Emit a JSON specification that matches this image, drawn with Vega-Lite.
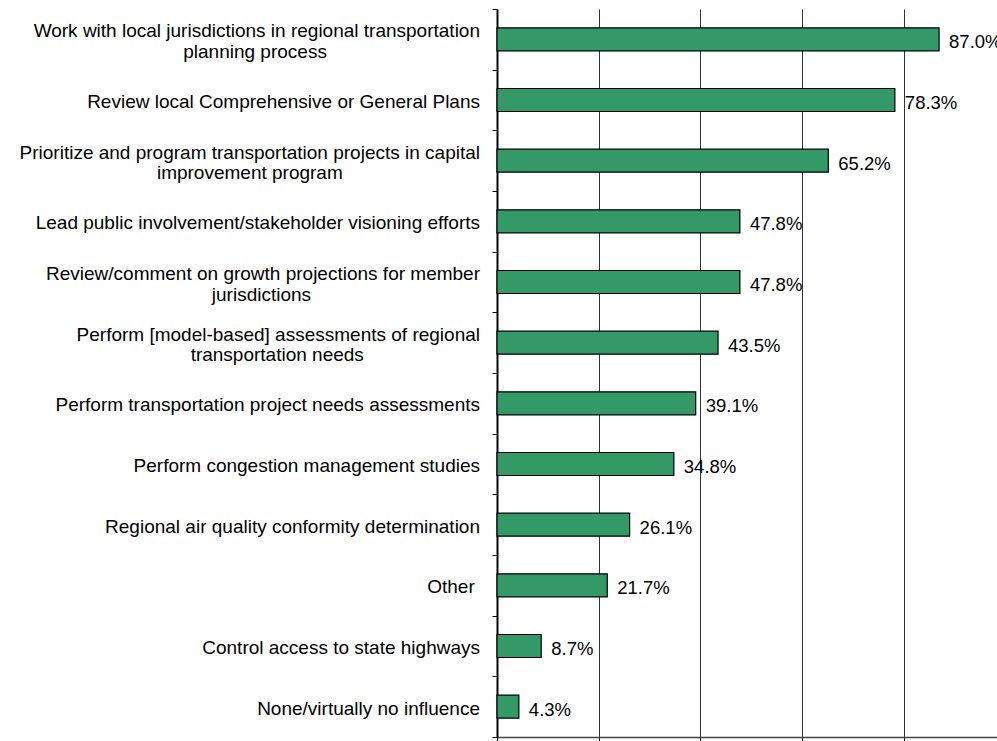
{
  "$schema": "https://vega.github.io/schema/vega-lite/v6.json",
  "width": 500,
  "height": 728,
  "autosize": {"type": "none"},
  "padding": {"left": 497, "top": 9, "right": 0, "bottom": 4},
  "background": "white",
  "config": {"view": {"stroke": null}, "font": "Liberation Sans"},
  "data": {
    "values": [
      {"task": "Work with local jurisdictions in regional transportation\nplanning process\u00a0\u00a0\u00a0\u00a0\u00a0\u00a0\u00a0\u00a0\u00a0\u00a0\u00a0\u00a0\u00a0\u00a0\u00a0\u00a0\u00a0\u00a0\u00a0\u00a0\u00a0\u00a0\u00a0\u00a0\u00a0\u00a0\u00a0\u00a0\u00a0\u200b", "pct": 0.870},
      {"task": "Review local Comprehensive or General Plans", "pct": 0.783},
      {"task": "Prioritize and program transportation projects in capital\nimprovement program\u00a0\u00a0\u00a0\u00a0\u00a0\u00a0\u00a0\u00a0\u00a0\u00a0\u00a0\u00a0\u00a0\u00a0\u00a0\u00a0\u00a0\u00a0\u00a0\u00a0\u00a0\u00a0\u00a0\u00a0\u00a0\u00a0\u200b", "pct": 0.652},
      {"task": "Lead public involvement/stakeholder visioning efforts", "pct": 0.478},
      {"task": "Review/comment on growth projections for member\njurisdictions\u00a0\u00a0\u00a0\u00a0\u00a0\u00a0\u00a0\u00a0\u00a0\u00a0\u00a0\u00a0\u00a0\u00a0\u00a0\u00a0\u00a0\u00a0\u00a0\u00a0\u00a0\u00a0\u00a0\u00a0\u00a0\u00a0\u00a0\u00a0\u00a0\u00a0\u00a0\u00a0\u200b", "pct": 0.478},
      {"task": "Perform [model-based] assessments of regional\ntransportation needs\u00a0\u00a0\u00a0\u00a0\u00a0\u00a0\u00a0\u00a0\u00a0\u00a0\u00a0\u00a0\u00a0\u00a0\u00a0\u00a0\u00a0\u00a0\u00a0\u00a0\u00a0\u00a0\u200b", "pct": 0.435},
      {"task": "Perform transportation project needs assessments", "pct": 0.391},
      {"task": "Perform congestion management studies", "pct": 0.348},
      {"task": "Regional air quality conformity determination", "pct": 0.261},
      {"task": "Other\u00a0\u200b", "pct": 0.217},
      {"task": "Control access to state highways", "pct": 0.087},
      {"task": "None/virtually no influence", "pct": 0.043}
    ]
  },
  "encoding": {
    "y": {
      "field": "task",
      "type": "nominal",
      "sort": null,
      "scale": {"paddingInner": 0, "paddingOuter": 0},
      "axis": {
        "title": null,
        "labels": false,
        "tickBand": "extent",
        "ticks": true,
        "tickSize": 5,
        "tickColor": "black",
        "tickWidth": 1,
        "domain": true,
        "domainColor": "black",
        "domainWidth": 2,
        "grid": false
      }
    },
    "x": {
      "field": "pct",
      "type": "quantitative",
      "scale": {"domain": [0, 0.984], "nice": false, "zero": true},
      "axis": {
        "title": null,
        "values": [0, 0.2, 0.4, 0.6, 0.8],
        "labels": false,
        "grid": true,
        "gridColor": "#333333",
        "gridWidth": 1,
        "gridOpacity": 1,
        "ticks": true,
        "tickSize": 4,
        "tickColor": "black",
        "domain": true,
        "domainColor": "#444444",
        "domainWidth": 1.5
      }
    }
  },
  "layer": [
    {
      "mark": {"type": "bar", "color": "#339966", "stroke": "black", "strokeWidth": 1.2, "size": 23}
    },
    {
      "mark": {"type": "text", "align": "left", "dx": 10, "dy": 3, "fontSize": 18.5, "color": "black", "baseline": "middle"},
      "encoding": {"text": {"field": "pct", "type": "quantitative", "format": ".1%"}}
    },
    {
      "transform": [{"filter": "indexof(datum.task, '\\n') < 0"}],
      "mark": {"type": "text", "align": "right", "baseline": "middle", "dx": -17, "dy": 2, "fontSize": 19, "color": "black", "lineBreak": "\n", "lineHeight": 20.5},
      "encoding": {"x": {"datum": 0}, "text": {"field": "task", "type": "nominal"}}
    },
    {
      "transform": [{"filter": "indexof(datum.task, '\\n') >= 0"}],
      "mark": {"type": "text", "align": "right", "baseline": "middle", "dx": -17, "dy": -8, "fontSize": 19, "color": "black", "lineBreak": "\n", "lineHeight": 20.5},
      "encoding": {"x": {"datum": 0}, "text": {"field": "task", "type": "nominal"}}
    }
  ]
}
